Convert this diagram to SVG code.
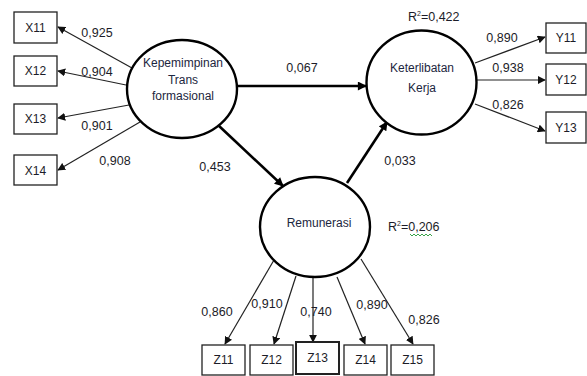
<svg xmlns="http://www.w3.org/2000/svg" width="587" height="376" viewBox="0 0 587 376">
<style>
text{font-family:"Liberation Sans",Arial,sans-serif;fill:#1c1c28}
.num{font-size:12.5px;text-anchor:middle}
.box rect{fill:#fff;stroke:#222;stroke-width:1.3}
.box text{font-size:12px;text-anchor:middle}
.lv ellipse{fill:#fff;stroke:#000;stroke-width:2.4}
.lv text{font-size:12px;text-anchor:middle;fill:#1c2640}
.thin{stroke:#222;stroke-width:1.2;fill:none;marker-end:url(#ah)}
.thick{stroke:#000;stroke-width:2.6;fill:none;marker-end:url(#ahb)}
</style>
<defs>
<marker id="ah" viewBox="0 0 10 10" refX="9" refY="5" markerWidth="8" markerHeight="8" markerUnits="userSpaceOnUse" orient="auto"><path d="M0,0 L10,5 L0,10 z" fill="#111"/></marker>
<marker id="ahb" viewBox="0 0 10 10" refX="9" refY="5" markerWidth="10" markerHeight="9" markerUnits="userSpaceOnUse" orient="auto"><path d="M0,0 L10,5 L0,10 z" fill="#000"/></marker>
</defs>
<rect width="587" height="376" fill="#fff"/>
<g id="connectors">
<line class="thin" x1="132" y1="68" x2="58" y2="27"/>
<line class="thin" x1="126" y1="85" x2="58" y2="71"/>
<line class="thin" x1="129" y1="105" x2="58" y2="118"/>
<line class="thin" x1="140" y1="122" x2="58" y2="170"/>
<line class="thick" x1="238" y1="86" x2="366" y2="86"/>
<line class="thick" x1="218" y1="125" x2="283" y2="186"/>
<line class="thick" x1="347" y1="183" x2="387" y2="122"/>
<line class="thin" x1="475" y1="63" x2="545" y2="37"/>
<line class="thin" x1="476" y1="80" x2="545" y2="80"/>
<line class="thin" x1="475" y1="104" x2="545" y2="131"/>
<line class="thin" x1="274" y1="260" x2="225" y2="344"/>
<line class="thin" x1="296" y1="276" x2="274" y2="344"/>
<line class="thin" x1="313" y1="277" x2="313" y2="342"/>
<line class="thin" x1="337" y1="277" x2="365" y2="344"/>
<line class="thin" x1="361" y1="259" x2="413" y2="344"/>
</g>
<g id="labels">
<text class="num" x="97" y="37">0,925</text>
<text class="num" x="97" y="76">0,904</text>
<text class="num" x="97" y="130">0,901</text>
<text class="num" x="115" y="165">0,908</text>
<text class="num" x="215" y="171">0,453</text>
<text class="num" x="302" y="72">0,067</text>
<text class="num" x="502" y="42">0,890</text>
<text class="num" x="508" y="72">0,938</text>
<text class="num" x="508" y="109">0,826</text>
<text class="num" x="400" y="165">0,033</text>
<text class="num" x="217" y="316">0,860</text>
<text class="num" x="267" y="308">0,910</text>
<text class="num" x="316" y="316">0,740</text>
<text class="num" x="372" y="309">0,890</text>
<text class="num" x="424" y="324">0,826</text>
<text x="408" y="21" style="font-size:12.5px">R<tspan dy="-5" style="font-size:7px">2</tspan><tspan dy="5">=0,422</tspan></text>
<text x="388" y="231" style="font-size:12.5px">R<tspan dy="-5" style="font-size:7px">2</tspan><tspan dy="5">=0,206</tspan></text>
<path d="M410,234 l2,2 l2,-2 l2,2 l2,-2 l2,2 l2,-2 l2,2 l2,-2 l2,2 l2,-2 l2,2" fill="none" stroke="#3aa34a" stroke-width="1"/>
</g>
<g id="kepemimpinan" class="lv">
<ellipse cx="182" cy="89" rx="55" ry="49"/>
<text x="183" y="67">Kepemimpinan</text>
<text x="183" y="84">Trans</text>
<text x="183" y="100">formasional</text>
</g>
<g id="keterlibatan" class="lv">
<ellipse cx="421.5" cy="82.5" rx="55" ry="52"/>
<text x="422" y="72">Keterlibatan</text>
<text x="422" y="92">Kerja</text>
</g>
<g id="remunerasi" class="lv">
<ellipse cx="315" cy="227" rx="55" ry="50"/>
<text x="319" y="227">Remunerasi</text>
</g>
<g id="X11" class="box"><rect x="14" y="12" width="43" height="31"/><text x="35.5" y="32">X11</text></g>
<g id="X12" class="box"><rect x="14" y="56" width="43" height="30"/><text x="35.5" y="75">X12</text></g>
<g id="X13" class="box"><rect x="14" y="104" width="43" height="30"/><text x="35.5" y="123">X13</text></g>
<g id="X14" class="box"><rect x="14" y="155" width="43" height="30"/><text x="35.5" y="175">X14</text></g>
<g id="Y11" class="box"><rect x="546" y="23" width="40" height="30"/><text x="566" y="42">Y11</text></g>
<g id="Y12" class="box"><rect x="546" y="64" width="40" height="31"/><text x="566" y="84">Y12</text></g>
<g id="Y13" class="box"><rect x="546" y="112" width="40" height="31"/><text x="566" y="132">Y13</text></g>
<g id="Z11" class="box"><rect x="202" y="345" width="43" height="30"/><text x="223.5" y="364">Z11</text></g>
<g id="Z12" class="box"><rect x="250" y="345" width="43" height="30"/><text x="271.5" y="364">Z12</text></g>
<g id="Z13" class="box"><rect x="296" y="342" width="43" height="32" style="stroke-width:2"/><text x="317.5" y="362">Z13</text></g>
<g id="Z14" class="box"><rect x="344" y="345" width="43" height="30"/><text x="365.5" y="364">Z14</text></g>
<g id="Z15" class="box"><rect x="391" y="345" width="43" height="30"/><text x="412.5" y="364">Z15</text></g>
</svg>
